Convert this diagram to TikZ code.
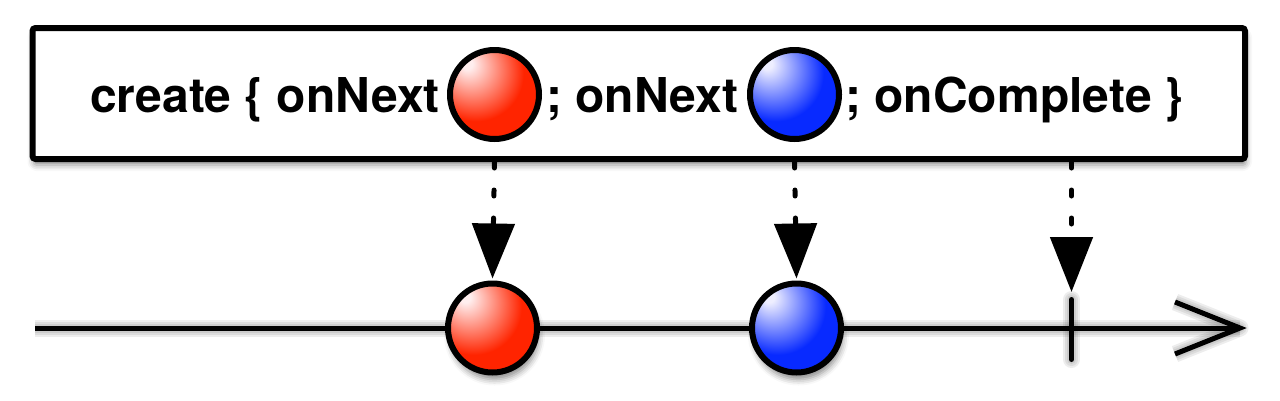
\documentclass[tikz,border=0pt]{standalone}
\usepackage{fontspec}
\setmainfont{TeX Gyre Heros}
\usetikzlibrary{arrows.meta,shadows.blur}
\definecolor{ballRed}{RGB}{255,36,0}
\definecolor{ballRedHi}{RGB}{255,238,238}
\definecolor{ballRedDk}{RGB}{125,8,0}
\definecolor{ballBlue}{RGB}{8,42,255}
\definecolor{ballBlueHi}{RGB}{238,238,255}
\definecolor{ballBlueDk}{RGB}{0,12,115}
\pgfdeclareradialshading{redball}{\pgfpoint{-16bp}{18bp}}{color(0bp)=(ballRedHi); color(3bp)=(ballRedHi); color(27bp)=(ballRed); color(46bp)=(ballRed); color(72bp)=(ballRedDk); color(80bp)=(ballRedDk)}
\pgfdeclareradialshading{blueball}{\pgfpoint{-16bp}{18bp}}{color(0bp)=(ballBlueHi); color(3bp)=(ballBlueHi); color(27bp)=(ballBlue); color(46bp)=(ballBlue); color(72bp)=(ballBlueDk); color(80bp)=(ballBlueDk)}
\tikzset{
  frame/.style={draw, line width=6pt, rounded corners=3pt, fill=white,
    minimum width=1212.5pt, minimum height=131pt, inner sep=0pt,
    blur shadow={shadow xshift=1pt, shadow yshift=-6pt, shadow blur radius=6pt, shadow opacity=45}},
  ball/.style={circle, draw, line width=6pt, minimum size=89pt, inner sep=0pt},
  redb/.style={ball, shading=redball},
  blueb/.style={ball, shading=blueball},
  sball/.style={blur shadow={shadow xshift=2pt, shadow yshift=-7pt, shadow blur radius=6pt, shadow opacity=45}},
  label/.style={anchor=base west, inner sep=0pt, font=\bfseries\fontsize{48pt}{57pt}\selectfont},
  evt/.style={draw, line width=5pt, dash pattern=on 6pt off 22pt, line cap=round,
    -{Triangle[length=55pt,width=42pt]}},
  tline/.style={line width=5pt},
  shadowline/.style={black, opacity=0.07},
}
\begin{document}
\begin{tikzpicture}[x=1pt, y=-1pt]
\useasboundingbox (0,0) rectangle (1280,400);
% frame with text
\node[frame] (frame) at (638.75,93.5) {};
\node[label] (t1) at (90,112) {create \{ onNext};
\node[redb] (b1) at (494.5,94.5) {};
\node[label] (t2) at (546,112) {; onNext};
\node[blueb] (b2) at (794.5,94.5) {};
\node[label] (t3) at (845,112) {; onComplete \}};
% timeline
\coordinate (tl0) at (35,328);
\coordinate (tl1) at (1240,328);
\coordinate (aU) at (1175,302);
\coordinate (aD) at (1175,354);
\coordinate (tk) at (1071.5,328);
\coordinate (tkT) at (1071.5,299.5);
\coordinate (tkB) at (1071.5,359.5);
\coordinate (tkTip) at (1071.5,292);
% soft shadows of lines
\begin{scope}[shift={(2,6)}]
\foreach \w in {17,13,9,5}{
  \draw[shadowline, line width=\w pt] (tl0) -- (tl1);
  \draw[shadowline, line width=\w pt, line cap=round] (tkT) -- (tkB);
  \draw[shadowline, line width=\w pt, line join=round] (aU) -- (tl1) -- (aD);
}
\end{scope}
\draw[tline] (tl0) -- (tl1);
\draw[tline, miter limit=10] (aU) -- (tl1) -- (aD);
\draw[tline, line cap=round] (tkT) -- (tkB);
\node[redb, sball] (r1) at (492.5,328) {};
\node[blueb, sball] (r2) at (796.5,328) {};
% emission arrows
\draw[evt] (b1 |- frame.south) -- ([yshift=2pt]r1.north);
\draw[evt] (b2 |- frame.south) -- ([yshift=2pt]r2.north);
\draw[evt] (tk |- frame.south) -- (tkTip);
\end{tikzpicture}
\end{document}
